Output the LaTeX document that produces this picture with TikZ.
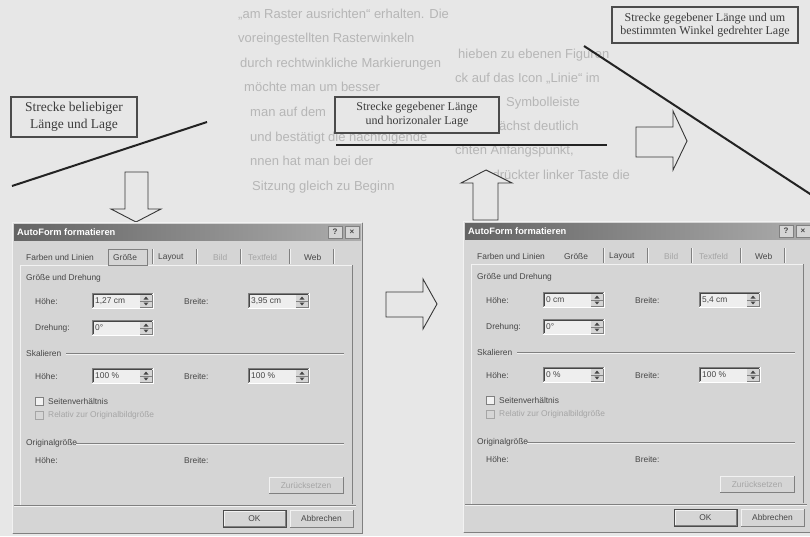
\documentclass[tikz,border=0pt]{standalone}
\usepackage{fontspec}
\setmainfont{Liberation Serif}
\setsansfont{Liberation Sans}
\definecolor{page}{RGB}{231,231,231}
\definecolor{bgt}{RGB}{182,182,182}
\definecolor{dlgbg}{RGB}{213,213,213}
\definecolor{dlgdark}{RGB}{128,128,128}
\definecolor{dlglight}{RGB}{242,242,242}
\definecolor{dtx}{RGB}{70,70,70}
\definecolor{dis}{RGB}{165,165,165}
\definecolor{fieldc}{RGB}{238,238,238}
\definecolor{tl}{RGB}{100,100,100}
\definecolor{tr}{RGB}{172,172,172}
\definecolor{lbldraw}{RGB}{75,75,75}
\definecolor{lbltext}{RGB}{60,60,60}
\definecolor{segc}{RGB}{35,35,35}
\definecolor{arrc}{RGB}{55,55,55}
\tikzset{
 dtext/.style={font=\sffamily\fontsize{8.4}{9}\selectfont, text=dtx, inner sep=0pt, anchor=west},
 distext/.style={dtext, text=dis},
 ctext/.style={dtext, anchor=center},
 dtitle/.style={font=\sffamily\bfseries\fontsize{9.3}{10}\selectfont, text=white, inner sep=0pt, anchor=west},
 tbtn/.style={draw=dlgdark, fill=dlgbg, minimum width=14pt, minimum height=12pt, inner sep=0pt, font=\sffamily\bfseries\fontsize{8}{8}\selectfont, text=dtx},
 lbl/.style={draw=lbldraw, line width=1.1pt, fill=page, text=lbltext, align=center, inner sep=0pt},
 bigarrow/.style={draw=arrc, line width=0.9pt, fill=page, line join=miter},
 seg/.style={line width=2pt, draw=segc},
 bgtext/.style={font=\sffamily\fontsize{13}{14}\selectfont, text=bgt, anchor=base west, inner sep=0pt},
}
\newcommand\dfield[4]{%
 \fill[fieldc] (#2,#3) rectangle (#2+61,#3+15);
 \draw[dlgdark] (#2,#3+15) -- (#2,#3) -- (#2+61,#3);
 \draw[dtx] (#2+1,#3+14) -- (#2+1,#3+1) -- (#2+60,#3+1);
 \draw[white] (#2,#3+15) -- (#2+61,#3+15) -- (#2+61,#3);
 \fill[dlgbg] (#2+48,#3+2) rectangle (#2+60,#3+14);
 \draw[dlgdark] (#2+48,#3+8) -- (#2+60,#3+8);
 \draw[dlgdark] (#2+60,#3+2) -- (#2+60,#3+14) -- (#2+48,#3+14);
 \fill[dtx] (#2+54,#3+3.5) -- (#2+51.5,#3+6.5) -- (#2+56.5,#3+6.5) -- cycle;
 \fill[dtx] (#2+54,#3+12.5) -- (#2+51.5,#3+9.5) -- (#2+56.5,#3+9.5) -- cycle;
 \node[dtext] (#1) at (#2+3,#3+8) {#4};
}
\newcommand\dlgbox[8]{%
\begin{scope}[shift={(#2,#3)}]
 \fill[dlgbg] (12,222) rectangle (363,534);
 \draw[dlglight] (12.5,533) -- (12.5,222.5) -- (362,222.5);
 \draw[dlgdark] (12.5,533.5) -- (362.5,533.5) -- (362.5,222.5);
 \shade[left color=tl, right color=tr] (14,224) rectangle (361,240);
 \node[dtitle] (#1title) at (17,232) {AutoForm formatieren};
 \node[tbtn] (#1help) at (335,232) {?};
 \node[tbtn] (#1close) at (352,232) {×};
 \draw[dlglight] (20,505) -- (20,265) -- (352,265);
 \draw[dlgdark] (352,265) -- (352,504);
 \draw[dlgdark] (14,505) -- (356,505);
 \draw[dlglight] (14,506) -- (356,506);
 #8
 \node[dtext] (#1tabA) at (26,257) {Farben und Linien};
 \node[dtext] (#1tabB) at (113,257) {Größe};
 \node[dtext] (#1tabC) at (158,257) {Layout};
 \node[distext] (#1tabD) at (213,257) {Bild};
 \node[distext] (#1tabE) at (248,257) {Textfeld};
 \node[dtext] (#1tabF) at (304,257) {Web};
 \foreach \sx in {152,196,240,289,333} {\draw[dlgdark] (\sx,249) -- (\sx,264); \draw[dlglight] (\sx+1,249) -- (\sx+1,264);}
 \node[dtext] (#1secA) at (26,278) {Größe und Drehung};
 \node[dtext] (#1lhA) at (35,301) {Höhe:};
 \dfield{#1fhA}{92}{293}{#4}
 \node[dtext] (#1lbA) at (184,301) {Breite:};
 \dfield{#1fbA}{248}{293}{#5}
 \node[dtext] (#1ldr) at (35,328) {Drehung:};
 \dfield{#1fdr}{92}{320}{0°}
 \node[dtext] (#1secB) at (26,353) {Skalieren};
 \draw[dlgdark] (66,353) -- (344,353); \draw[dlglight] (66,354) -- (344,354);
 \node[dtext] (#1lhB) at (35,376) {Höhe:};
 \dfield{#1fhB}{92}{368}{#6}
 \node[dtext] (#1lbB) at (184,376) {Breite:};
 \dfield{#1fbB}{248}{368}{#7}
 \draw[dlgdark, fill=white!70!dlgbg] (35,397) rectangle (43,405);
 \node[dtext] (#1cbA) at (48,401) {Seitenverhältnis};
 \draw[dis, fill=dlgbg] (35,411) rectangle (43,419);
 \node[distext] (#1cbB) at (48,415) {Relativ zur Originalbildgröße};
 \node[dtext] (#1secC) at (26,443) {Originalgröße};
 \draw[dlgdark] (76,443) -- (344,443); \draw[dlglight] (76,444) -- (344,444);
 \node[dtext] (#1lhC) at (35,460) {Höhe:};
 \node[dtext] (#1lbC) at (184,460) {Breite:};
 \draw[dlglight] (269,493) -- (269,477) -- (343,477);
 \draw[dlgdark] (269,493) -- (343,493) -- (343,477);
 \node[distext, anchor=center] (#1reset) at (306,485) {Zurücksetzen};
 \draw[dlglight] (224,526) -- (224,511) -- (285,511);
 \draw[dlgdark] (224,526) -- (285,526) -- (285,511);
 \draw[black!70] (223,510) rectangle (286,527);
 \node[ctext] (#1ok) at (254.5,518.5) {OK};
 \draw[dlglight] (290,527) -- (290,510) -- (353,510);
 \draw[dlgdark] (290,527) -- (353,527) -- (353,510);
 \node[ctext] (#1cancel) at (321.5,518.5) {Abbrechen};
\end{scope}}
\begin{document}
\begin{tikzpicture}[x=1pt, y=-1pt]
\useasboundingbox (0,0) rectangle (810,536);
\clip (0,0) rectangle (810,536);
\fill[page] (0,0) rectangle (810,536);
% faint page text behind the figure
\node[bgtext] (bgA1) at (238,18) {„am Raster ausrichten“ erhalten. Die};
\node[bgtext] (bgA2) at (238,42) {voreingestellten Rasterwinkeln};
\node[bgtext] (bgA3) at (240,67) {durch rechtwinkliche Markierungen};
\node[bgtext] (bgA4) at (244,91) {möchte man um besser};
\node[bgtext] (bgA5) at (250,116) {man auf dem};
\node[bgtext] (bgA6) at (250,141) {und bestätigt die nachfolgende};
\node[bgtext] (bgA7) at (250,165) {nnen hat man bei der};
\node[bgtext] (bgA8) at (252,190) {Sitzung gleich zu Beginn};
\node[bgtext] (bgB1) at (458,58) {hieben zu ebenen Figuren};
\node[bgtext] (bgB2) at (455,82) {ck auf das Icon „Linie“ im};
\node[bgtext] (bgB3) at (506,106) {Symbolleiste};
\node[bgtext] (bgB4) at (460,130) {en zunächst deutlich};
\node[bgtext] (bgB5) at (455,154) {chten Anfangspunkt,};
\node[bgtext] (bgB6) at (478,179) {gedrückter linker Taste die};
% line segments
\coordinate (s1a) at (12,186); \coordinate (s1b) at (207,122);
\coordinate (s2a) at (336,145); \coordinate (s2b) at (607,145);
\coordinate (s3a) at (584,46); \coordinate (s3b) at (830,207);
\draw[seg] (s1a) -- (s1b);
\draw[seg] (s2a) -- (s2b);
\draw[seg] (s3a) -- (s3b);
% labels
\node[lbl, minimum width=126pt, minimum height=40pt, font=\fontsize{13.5}{17}\selectfont] (labA) at (74,117) {Strecke beliebiger\\Länge und Lage};
\node[lbl, minimum width=164pt, minimum height=36pt, font=\fontsize{12}{14}\selectfont] (labB) at (417,115) {Strecke gegebener Länge\\und horizonaler Lage};
\node[lbl, minimum width=186pt, minimum height=36pt, font=\fontsize{12}{13.5}\selectfont] (labC) at (705,25) {Strecke gegebener Länge und um\\bestimmten Winkel gedrehter Lage};
% big hollow arrows
\draw[bigarrow] (125,172) -- (148,172) -- (148,209) -- (161,209) -- (136,222) -- (111,209) -- (125,209) -- cycle;
\draw[bigarrow] (473,220) -- (473,183) -- (461,183) -- (486,170) -- (512,183) -- (498,183) -- (498,220) -- cycle;
\draw[bigarrow] (636,127) -- (673,127) -- (673,111) -- (687,141) -- (673,170) -- (673,157) -- (636,157) -- cycle;
\draw[bigarrow] (386,292) -- (423,292) -- (423,279) -- (437,304) -- (423,329) -- (423,317) -- (386,317) -- cycle;
% dialogs
\dlgbox{L}{0}{0}{1,27 cm}{3,95 cm}{100 \%}{100 \%}{\draw[dlgdark] (108,249) rectangle (147,265);}
\dlgbox{R}{451}{-1}{0 cm}{5,4 cm}{0 \%}{100 \%}{}
\end{tikzpicture}
\end{document}
